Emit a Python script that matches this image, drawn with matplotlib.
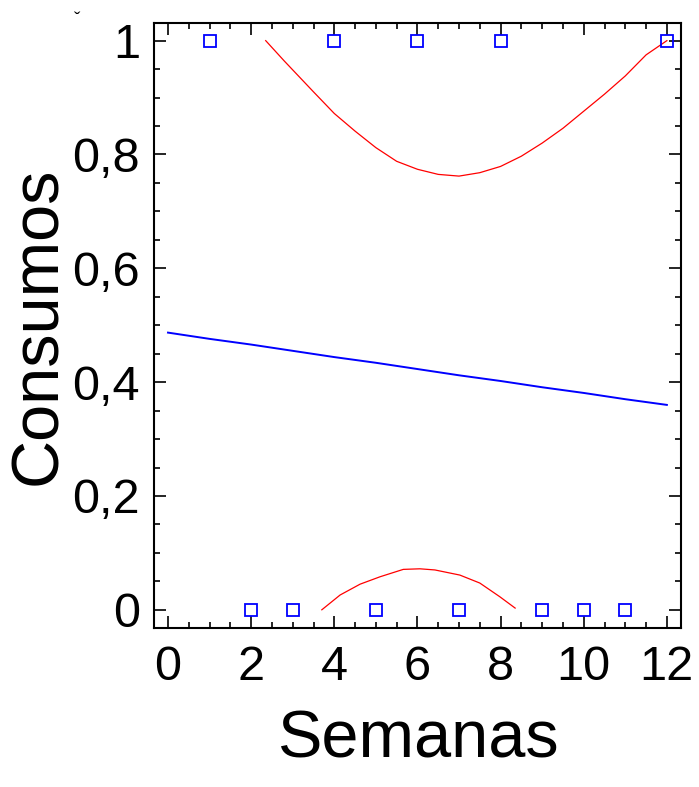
import matplotlib

matplotlib.use("Agg")
import matplotlib.pyplot as plt
from matplotlib.ticker import MultipleLocator, FuncFormatter

plt.rcParams["font.family"] = ["Liberation Sans", "DejaVu Sans"]

# observed weeks with consumption (1) / no consumption (0)
semanas = [1, 2, 3, 4, 5, 6, 7, 8, 9, 10, 11, 12]
consumos = [1, 0, 0, 1, 0, 1, 0, 1, 0, 0, 0, 1]

# fitted model (blue)
fit_x = [0, 1, 2, 3, 4, 5, 6, 7, 8, 9, 10, 11, 12]
fit_y = [0.487, 0.476, 0.466, 0.455, 0.444, 0.434, 0.423, 0.412, 0.402, 0.391, 0.381, 0.370, 0.360]

# upper limit curve (red)
upper_x = [2.35, 2.8, 3.5, 4.0, 4.5, 5.0, 5.5, 6.0, 6.5, 7.0, 7.5, 8.0,
           8.5, 9.0, 9.5, 10.0, 10.5, 11.0, 11.5, 12.0]
upper_y = [1.000, 0.964, 0.910, 0.872, 0.841, 0.812, 0.788, 0.774, 0.765, 0.762,
           0.768, 0.779, 0.797, 0.820, 0.846, 0.876, 0.906, 0.938, 0.975, 1.000]

# lower limit curve (red)
lower_x = [3.70, 4.14, 4.62, 5.10, 5.66, 6.06, 6.42, 7.02, 7.50, 7.98, 8.35]
lower_y = [0.000, 0.026, 0.045, 0.058, 0.071, 0.072, 0.070, 0.061, 0.047, 0.023, 0.003]

fig = plt.figure(figsize=(6.99, 7.87), dpi=100)
ax = fig.add_axes([154 / 699, 1 - 628 / 787, (681 - 154) / 699, (628 - 23) / 787])

ax.plot(upper_x, upper_y, color="#ff0000", linewidth=0.9)
ax.plot(lower_x, lower_y, color="#ff0000", linewidth=0.9)
ax.plot(fit_x, fit_y, color="#0000ff", linewidth=1.4)
ax.plot(semanas, consumos, linestyle="none", marker="s", markersize=8.5,
        markerfacecolor="none", markeredgecolor="#0000ff", markeredgewidth=1.3,
        clip_on=False)

ax.set_xlim(-0.337, 12.34)
ax.set_ylim(-0.032, 1.031)

ax.xaxis.set_major_locator(MultipleLocator(2))
ax.xaxis.set_minor_locator(MultipleLocator(0.5))
ax.yaxis.set_major_locator(MultipleLocator(0.2))
ax.yaxis.set_minor_locator(MultipleLocator(0.05))
ax.yaxis.set_major_formatter(FuncFormatter(lambda v, p: f"{v:g}".replace(".", ",")))

ax.tick_params(which="both", direction="in", top=True, right=True, width=1.2, color="black")
ax.tick_params(which="major", length=8.5)
ax.tick_params(which="minor", length=4)
ax.tick_params(axis="x", which="major", labelsize=35, pad=12)
ax.tick_params(axis="y", which="major", labelsize=35, pad=10)
for sp in ax.spines.values():
    sp.set_linewidth(1.5)

ax.set_xlabel("Semanas", fontsize=48, labelpad=14)
ax.set_ylabel("Consumos", fontsize=48, labelpad=2)

fig.text(77 / 699, 1 - 20 / 787, "ˇ", fontsize=14, ha="center", va="center")

fig.savefig("out.png", dpi=100)
plt.close(fig)
